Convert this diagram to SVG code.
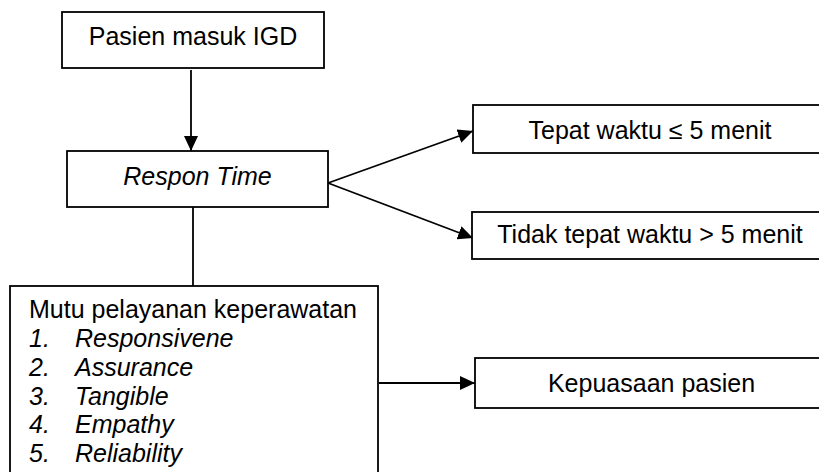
<svg xmlns="http://www.w3.org/2000/svg" width="819" height="472" viewBox="0 0 819 472">
<style>
.box{fill:#fff;stroke:#000;stroke-width:1.8}
.t{font-family:"Liberation Sans",Arial,sans-serif;font-size:25px;fill:#000}
.c{text-anchor:middle}
.i{font-style:italic}
.ln{stroke:#000;stroke-width:1.8;fill:none}
</style>
<defs>
<marker id="ah" viewBox="0 0 15 14" refX="15" refY="7" markerWidth="15" markerHeight="14" markerUnits="userSpaceOnUse" orient="auto">
<path d="M0,0 L15,7 L0,14 Z" fill="#000"/>
</marker>
</defs>
<rect width="819" height="472" fill="#fff"/>
<g id="connectors">
<line class="ln" x1="191" y1="70" x2="191" y2="151" marker-end="url(#ah)"/>
<line class="ln" x1="328" y1="183" x2="473" y2="131" marker-end="url(#ah)"/>
<line class="ln" x1="328" y1="183" x2="473" y2="238" marker-end="url(#ah)"/>
<line class="ln" x1="193" y1="207" x2="193" y2="286"/>
<line class="ln" x1="379" y1="383" x2="475" y2="383" marker-end="url(#ah)"/>
</g>
<g id="n1">
<rect class="box" x="62" y="12" width="262" height="56"/>
<text class="t c" x="193" y="45">Pasien masuk IGD</text>
</g>
<g id="n2">
<rect class="box" x="67" y="151" width="261" height="56"/>
<text class="t c i" x="197.5" y="185">Respon Time</text>
</g>
<g id="n3">
<rect class="box" x="473" y="105" width="360" height="48"/>
<text class="t c" x="650" y="139">Tepat waktu ≤ 5 menit</text>
</g>
<g id="n4">
<rect class="box" x="472" y="212" width="360" height="47"/>
<text class="t c" x="650" y="243">Tidak tepat waktu &gt; 5 menit</text>
</g>
<g id="n5">
<rect class="box" x="10" y="286" width="368" height="200"/>
<text class="t" x="29" y="318">Mutu pelayanan keperawatan</text>
<text class="t i" x="29" y="347">1.</text><text class="t i" x="75" y="347">Responsivene</text>
<text class="t i" x="29" y="376">2.</text><text class="t i" x="75" y="376">Assurance</text>
<text class="t i" x="29" y="405">3.</text><text class="t i" x="75" y="405">Tangible</text>
<text class="t i" x="29" y="433">4.</text><text class="t i" x="75" y="433">Empathy</text>
<text class="t i" x="29" y="462">5.</text><text class="t i" x="75" y="462">Reliability</text>
</g>
<g id="n6">
<rect class="box" x="475" y="358" width="360" height="50"/>
<text class="t c" x="651.5" y="392">Kepuasaan pasien</text>
</g>
</svg>
